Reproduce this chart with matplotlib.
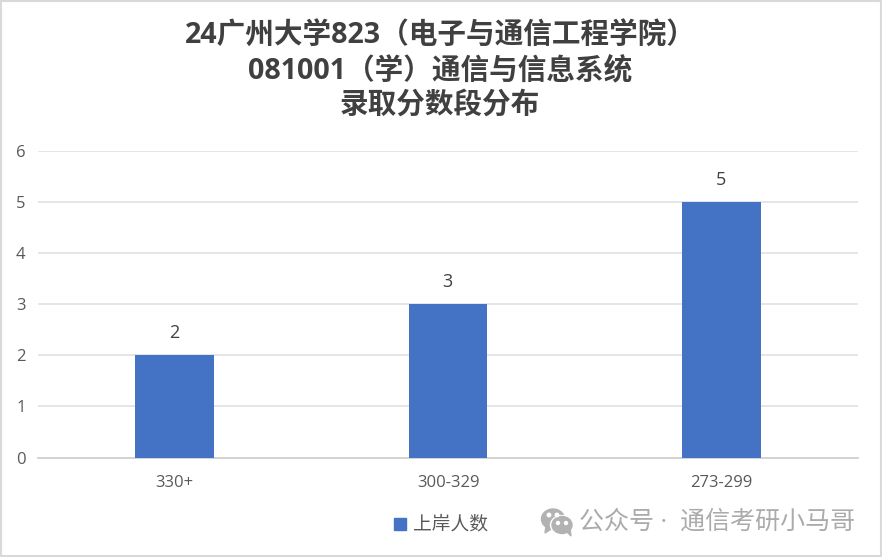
import matplotlib
matplotlib.use('Agg')
import matplotlib.pyplot as plt
from matplotlib.patches import Rectangle, Ellipse, Polygon

plt.rcParams['font.family'] = ['Open Sans', 'Noto Sans CJK SC', 'DejaVu Sans']

categories = ['330+', '300-329', '273-299']
counts = [2, 3, 5]
y_ticks = [0, 1, 2, 3, 4, 5, 6]
title_lines = ['24广州大学823（电子与通信工程学院）', '081001（学）通信与信息系统', '录取分数段分布']
legend_label = '上岸人数'
watermark = '公众号 ·  通信考研小马哥'

W, H = 882, 557
fig = plt.figure(figsize=(W / 100, H / 100), dpi=100, facecolor='white')


def px_ellipse(cx, cy, w, h, color):
    fig.patches.append(Ellipse((cx / W, 1 - cy / H), w / W, h / H,
                               transform=fig.transFigure, color=color))


def px_tail(points, color):
    fig.patches.append(Polygon([(x / W, 1 - y / H) for x, y in points],
                               transform=fig.transFigure, color=color))


# plot area in pixels: x 38-858, y 151-457.5
ax = fig.add_axes([38 / W, 1 - 457.5 / H, 820 / W, 306.5 / H])
ax.bar(range(3), counts, width=0.288, color='#4472C4', zorder=3)
ax.set_xlim(-0.5, 2.5)
ax.set_ylim(0, 6)
ax.set_yticks(y_ticks)
ax.set_xticks(range(3))
ax.set_xticklabels(categories)
ax.grid(axis='y', color='#E3E3E3', lw=1.3, zorder=0)
ax.tick_params(length=0, labelsize=12, labelcolor='#595959')
ax.tick_params(axis='x', pad=12.5)
ax.tick_params(axis='y', pad=9)
for s in ['top', 'left', 'right']:
    ax.spines[s].set_visible(False)
ax.spines['bottom'].set_color('#D0D0D0')
ax.spines['bottom'].set_linewidth(1.3)

for i, v in enumerate(counts):
    ax.annotate(str(v), (i, v), xytext=(-0.5, 9.5), textcoords='offset points',
                ha='center', va='bottom', fontsize=13, color='#404040')

for y, line in zip([36, 71, 105], title_lines):
    fig.text(440 / W, 1 - y / H, line, ha='center', va='center',
             fontsize=20.6, fontweight='bold', color='#404040')

# legend
fig.patches.append(Rectangle((394 / W, 1 - 530 / H), 12 / W, 12 / H,
                             transform=fig.transFigure, color='#4472C4'))
fig.text(413 / W, 1 - 524 / H, legend_label, ha='left', va='center',
         fontsize=13.5, color='#595959')

# watermark: chat bubble icon then text
px_ellipse(553, 519, 23, 20, '#B2B2B2')
px_tail([(546, 526), (545, 533), (553, 528)], '#B2B2B2')
px_ellipse(562, 525, 23, 19, 'white')
px_ellipse(562, 525, 20, 17, '#B2B2B2')
px_tail([(566, 531), (571, 536), (570, 528)], '#B2B2B2')
for cx, cy in [(549, 515), (557, 515)]:
    px_ellipse(cx, cy, 3.5, 3.5, 'white')
for cx, cy in [(558, 523), (566, 523)]:
    px_ellipse(cx, cy, 3, 3, 'white')
fig.text(579 / W, 1 - 522 / H, watermark, ha='left', va='center',
         fontsize=18, color='#ABABAB')

# outer frame
fig.patches.append(Rectangle((1 / W, 1 / H), (W - 2) / W, (H - 2) / H, transform=fig.transFigure,
                             fill=False, edgecolor='#D9D9D9', lw=1.5))

fig.savefig('out.png', dpi=100)
